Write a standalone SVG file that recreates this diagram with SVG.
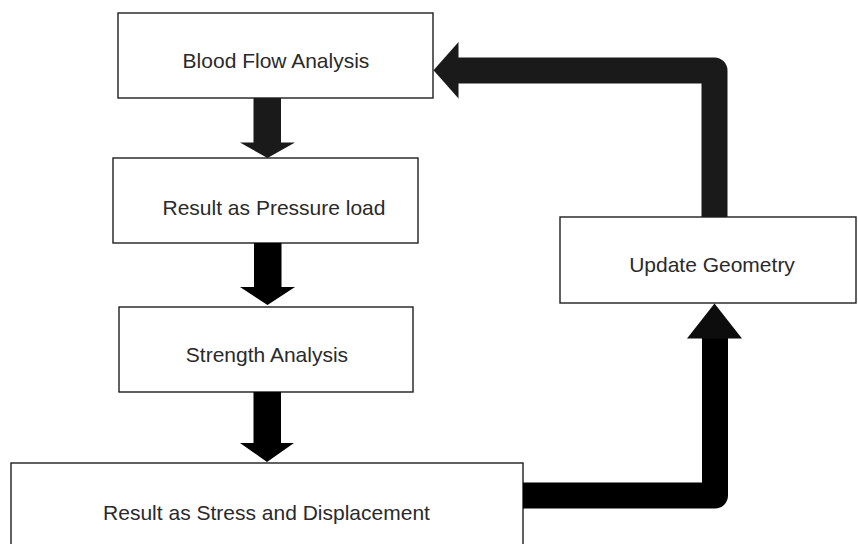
<svg xmlns="http://www.w3.org/2000/svg" width="858" height="544" viewBox="0 0 858 544">
  <style>
    .box { fill: #ffffff; stroke: #1e1e1e; stroke-width: 1.4; }
    .label { font-family: "Liberation Sans", Arial, sans-serif; font-size: 21px; fill: #2a2a2a; text-anchor: middle; }
    .solid { stroke: none; }
    .pipe { fill: none; stroke-width: 26; stroke-linejoin: round; stroke-linecap: butt; }
  </style>
  <rect width="858" height="544" fill="#ffffff"/>

  <!-- process boxes -->
  <g id="blood-flow-analysis">
    <rect class="box" x="118" y="13" width="315" height="85"/>
    <text class="label" x="276" y="68">Blood Flow Analysis</text>
  </g>
  <g id="result-pressure-load">
    <rect class="box" x="113" y="158" width="305" height="85"/>
    <text class="label" x="274" y="215">Result as Pressure load</text>
  </g>
  <g id="strength-analysis">
    <rect class="box" x="119" y="307" width="294" height="85"/>
    <text class="label" x="267" y="362">Strength Analysis</text>
  </g>
  <g id="result-stress-displacement">
    <rect class="box" x="11" y="463" width="512" height="100"/>
    <text class="label" x="266.5" y="519.5">Result as Stress and Displacement</text>
  </g>
  <g id="update-geometry">
    <rect class="box" x="560" y="217" width="296" height="86"/>
    <text class="label" x="712" y="272">Update Geometry</text>
  </g>

  <!-- block arrows and feedback loop -->
  <g id="connectors">
    <path class="solid" fill="#1a1a1a" d="M253.5 98 H281 V142.5 H295 L267.5 158 L240 142.5 H253.5 Z"/>
    <path class="solid" fill="#000000" d="M254 243 H281.5 V287 H295 L267.5 305 L240 287 H254 Z"/>
    <path class="solid" fill="#000000" d="M253.5 392 H281 V443 H294 L267 462 L240 443 H253.5 Z"/>

    <!-- stress/displacement result feeds the geometry update -->
    <path class="pipe" stroke="#000000" d="M523 495.5 H715 V338"/>
    <path class="solid" fill="#0d0d0d" d="M687 338.5 H742 L714.5 303.5 Z"/>

    <!-- updated geometry returns to the flow analysis -->
    <path class="pipe" stroke="#1a1a1a" d="M714.5 217 V70.5 H458"/>
    <path class="solid" fill="#1a1a1a" d="M458.5 42 V98.5 L433.5 70.3 Z"/>
  </g>
</svg>
